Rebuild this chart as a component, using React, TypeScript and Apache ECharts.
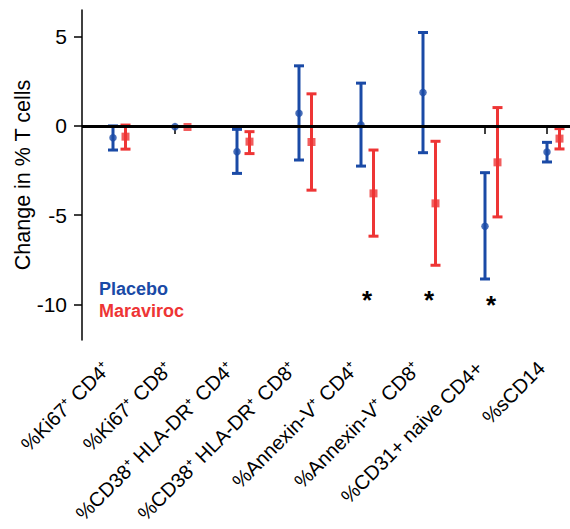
import React, { useEffect, useRef } from "react";
import * as echarts from "echarts";

const categories = [
  "%Ki67⁺ CD4⁺",
  "%Ki67⁺ CD8⁺",
  "%CD38⁺ HLA-DR⁺ CD4⁺",
  "%CD38⁺ HLA-DR⁺ CD8⁺",
  "%Annexin-V⁺ CD4⁺",
  "%Annexin-V⁺ CD8⁺",
  "%CD31+ naive CD4+",
  "%sCD14",
];
const placeboMean = [-0.66, -0.04, -1.44, 0.71, 0.06, 1.87, -5.62, -1.46];
const placeboLow = [-1.35, -0.04, -2.66, -1.91, -2.25, -1.5, -8.58, -2.02];
const placeboHigh = [0, -0.04, -0.19, 3.37, 2.4, 5.24, -2.62, -0.92];
const maravirocMean = [-0.6, -0.06, -0.88, -0.9, -3.78, -4.34, -2.04, -0.71];
const maravirocLow = [-1.3, -0.06, -1.55, -3.6, -6.18, -7.81, -5.1, -1.29];
const maravirocHigh = [0.05, -0.06, -0.32, 1.8, -1.35, -0.86, 1.03, -0.15];
const sigIndex = [4, 5, 6];
const sigValue = [-9.75, -9.75, -10.05];
const yTicks = [-10, -5, 0, 5];

const BLUE = "#1a4aa6";
const RED = "#ee3535";
const FONT = "Liberation Sans, Arial, sans-serif";

function errorSeries(name: string, low: number[], high: number[], color: string, offset: number) {
  return {
    type: "custom",
    name,
    data: low.map((l, i) => [i, l, high[i]]),
    encode: { x: 0, y: [1, 2] },
    silent: true,
    z: 3,
    renderItem: (params: any, api: any) => {
      const lo = api.value(1);
      const hi = api.value(2);
      if (Math.abs(hi - lo) < 1e-6) return { type: "group", children: [] };
      const p1 = api.coord([api.value(0), lo]);
      const p2 = api.coord([api.value(0), hi]);
      const x = p1[0] + offset;
      const half = 5;
      const style = { stroke: color, lineWidth: 3, fill: "none" };
      return {
        type: "group",
        children: [
          { type: "line", shape: { x1: x, y1: p1[1], x2: x, y2: p2[1] }, style },
          { type: "line", shape: { x1: x - half, y1: p1[1], x2: x + half, y2: p1[1] }, style },
          { type: "line", shape: { x1: x - half, y1: p2[1], x2: x + half, y2: p2[1] }, style },
        ],
      };
    },
  };
}

export default function App() {
  const ref = useRef<HTMLDivElement>(null);
  useEffect(() => {
    if (!ref.current) return;
    const chart = echarts.init(ref.current, undefined, { renderer: "svg" });
    chart.setOption({
      animation: false,
      textStyle: { fontFamily: FONT },
      grid: { left: 82, right: 0, top: 10, bottom: 189, containLabel: false, outerBoundsMode: "none" },
      xAxis: {
        type: "category",
        data: categories,
        boundaryGap: true,
        axisLine: { show: true, lineStyle: { color: "#000", width: 1.5 } },
        axisTick: { show: true, alignWithLabel: true, length: 8, lineStyle: { color: "#000", width: 1.5 } },
        axisLabel: {
          rotate: 45,
          fontSize: 20,
          color: "#000",
          margin: 19,
          padding: [0, 8, 0, 0],
          fontFamily: FONT,
          interval: 0,
        },
        splitLine: { show: false },
      },
      yAxis: {
        type: "value",
        min: -12,
        max: 6.5,
        name: "Change in % T cells",
        nameLocation: "middle",
        nameRotate: 90,
        nameGap: 48,
        nameMoveOverlap: false,
        nameTextStyle: { fontSize: 21.5, color: "#000", fontFamily: FONT },
        axisLine: { show: true, lineStyle: { color: "#000", width: 1.5 } },
        axisTick: { show: true, length: 8, customValues: yTicks, lineStyle: { color: "#000", width: 1.5 } },
        axisLabel: { fontSize: 21, color: "#000", margin: 15, customValues: yTicks, fontFamily: FONT },
        splitLine: { show: false },
      },
      series: [
        {
          type: "line",
          data: [],
          silent: true,
          markLine: {
            silent: true,
            symbol: "none",
            label: { show: false },
            lineStyle: { color: "#000", width: 3, type: "solid" },
            data: [{ yAxis: 0 }],
          },
        },
        errorSeries("Placebo", placeboLow, placeboHigh, BLUE, 0),
        errorSeries("Maraviroc", maravirocLow, maravirocHigh, RED, 12.5),
        {
          type: "scatter",
          name: "Placebo",
          data: placeboMean.map((v, i) => [i, v]),
          symbol: "circle",
          symbolSize: 7.5,
          itemStyle: { color: BLUE },
          z: 4,
          silent: true,
        },
        {
          type: "scatter",
          name: "Maraviroc",
          data: maravirocMean.map((v, i) => [i, v]),
          symbol: "rect",
          symbolSize: 8,
          symbolOffset: [12.5, 0],
          itemStyle: { color: RED },
          z: 4,
          silent: true,
        },
        {
          type: "custom",
          data: sigIndex.map((idx, k) => [idx, sigValue[k]]),
          silent: true,
          renderItem: (params: any, api: any) => {
            const p = api.coord([api.value(0), api.value(1)]);
            return {
              type: "text",
              x: p[0] + 6,
              y: p[1],
              style: {
                text: "*",
                fontSize: 26,
                fontWeight: "bold",
                fill: "#000",
                align: "center",
                verticalAlign: "middle",
                fontFamily: FONT,
              },
            };
          },
        },
      ],
      graphic: [
        {
          type: "text",
          x: 99,
          y: 289,
          style: { text: "Placebo", fontSize: 18, fontWeight: "bold", fill: BLUE, fontFamily: FONT, verticalAlign: "middle" },
        },
        {
          type: "text",
          x: 99,
          y: 311,
          style: { text: "Maraviroc", fontSize: 18, fontWeight: "bold", fill: RED, fontFamily: FONT, verticalAlign: "middle" },
        },
      ],
    });
    return () => chart.dispose();
  }, []);
  return (
    <div style={{ position: "absolute", left: 0, top: 0, width: 570, height: 529, overflow: "hidden", background: "#fff" }}>
      <div ref={ref} style={{ width: 578, height: 529 }} />
    </div>
  );
}
